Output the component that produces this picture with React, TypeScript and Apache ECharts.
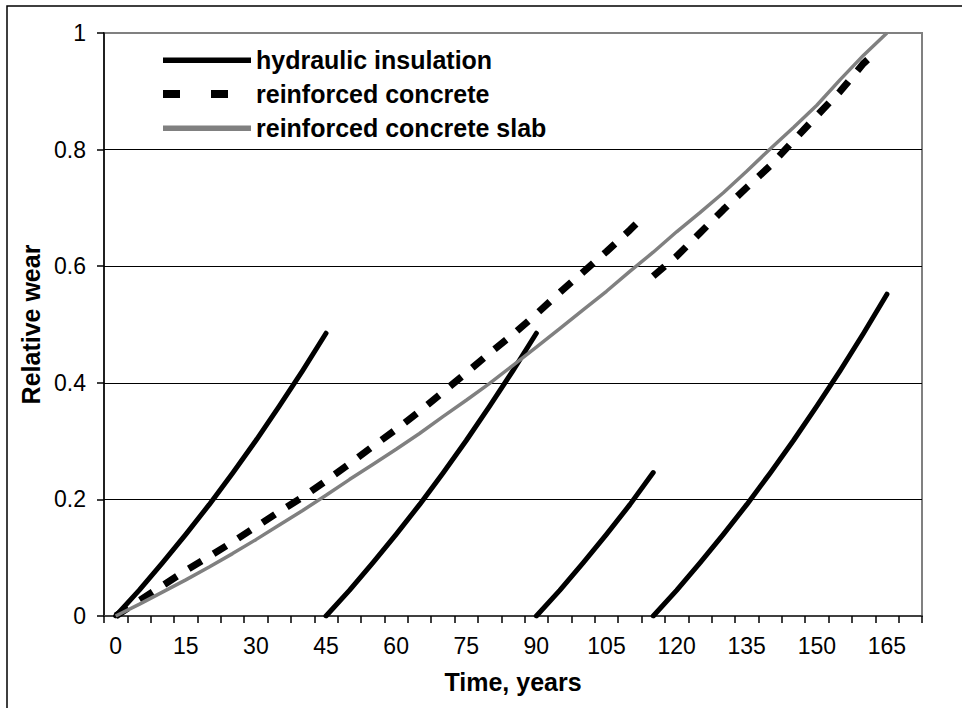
import React, { useEffect, useRef } from 'react';
import * as echarts from 'echarts';

// Category labels of the time axis (years, one bin every 5 years)
const timeCategories = ['0','5','10','15','20','25','30','35','40','45','50','55','60','65','70','75','80','85','90','95','100','105','110','115','120','125','130','135','140','145','150','155','160','165','170'];

// Relative wear axis
const yMin = 0;
const yMax = 1;
const yStep = 0.2;

// hydraulic insulation: four service cycles [year, relative wear]
const hydraulic1 = [[0,0],[5,0.044],[10,0.091],[15,0.14],[20,0.191],[25,0.245],[30,0.301],[35,0.36],[40,0.421],[45,0.485]];
const hydraulic2 = [[45,0],[50,0.044],[55,0.091],[60,0.14],[65,0.191],[70,0.245],[75,0.301],[80,0.36],[85,0.421],[90,0.485]];
const hydraulic3 = [[90,0],[95,0.044],[100,0.091],[105,0.14],[110,0.191],[115,0.246]];
const hydraulic4 = [[115,0],[120,0.044],[125,0.091],[130,0.14],[135,0.191],[140,0.245],[145,0.301],[150,0.36],[155,0.421],[160,0.485],[165,0.552]];

// reinforced concrete: two pieces
const concreteA = [[0,0],[5,0.026],[10,0.052],[15,0.078],[20,0.102],[25,0.127],[30,0.153],[35,0.179],[40,0.204],[45,0.232],[50,0.261],[55,0.291],[60,0.32],[65,0.351],[70,0.384],[75,0.417],[80,0.451],[85,0.483],[90,0.518],[95,0.555],[100,0.59],[105,0.625],[110,0.662],[112,0.678]];
const concreteB = [[115,0.583],[120,0.617],[125,0.657],[130,0.697],[135,0.735],[140,0.772],[145,0.815],[150,0.858],[155,0.9],[160,0.948],[163,0.97]];

// reinforced concrete slab
const slab = [[0,0],[5,0.02],[10,0.041],[15,0.062],[20,0.084],[25,0.107],[30,0.131],[35,0.156],[40,0.181],[45,0.207],[50,0.234],[55,0.26],[60,0.286],[65,0.313],[70,0.342],[75,0.37],[80,0.399],[85,0.43],[90,0.461],[95,0.493],[100,0.525],[105,0.557],[110,0.591],[115,0.624],[120,0.659],[125,0.692],[130,0.726],[135,0.763],[140,0.801],[145,0.838],[150,0.876],[155,0.92],[160,0.962],[165,1.0]];

const seriesNames = ['hydraulic insulation', 'reinforced concrete', 'reinforced concrete slab'];

const FONT = '"Liberation Sans", Arial, Helvetica, sans-serif';

export default function App() {
  const ref = useRef<HTMLDivElement>(null);

  useEffect(() => {
    if (!ref.current) return;
    const chart = echarts.init(ref.current, undefined, { renderer: 'svg' });

    const solid = (data: number[][]) => ({
      type: 'line',
      name: seriesNames[0],
      xAxisIndex: 1,
      yAxisIndex: 0,
      data,
      symbol: 'none',
      showSymbol: false,
      itemStyle: { color: '#000000' },
      lineStyle: { color: '#000000', width: 5, cap: 'round', join: 'round' },
      z: 2,
    });
    const dashed = (data: number[][]) => ({
      type: 'line',
      name: seriesNames[1],
      xAxisIndex: 1,
      yAxisIndex: 0,
      data,
      symbol: 'none',
      showSymbol: false,
      itemStyle: { color: '#000000' },
      lineStyle: { color: '#000000', width: 7, type: [15, 14], cap: 'butt' },
      z: 3,
    });

    const option: any = {
      animation: false,
      textStyle: { fontFamily: FONT },
      graphic: [
        {
          type: 'rect',
          silent: true,
          z: -10,
          shape: { x: 7, y: 6, width: 1000, height: 1000 },
          style: { fill: 'none', stroke: '#000000', lineWidth: 1.5 },
        },
      ],
      grid: {
        left: 104,
        right: 40,
        top: 33,
        bottom: 92,
        show: true,
        borderColor: '#808080',
        borderWidth: 2,
        backgroundColor: 'transparent',
      },
      legend: {
        orient: 'vertical',
        left: 163,
        top: 43,
        padding: 0,
        itemWidth: 88,
        itemHeight: 8,
        itemGap: 0,
        selectedMode: false,
        itemStyle: { borderWidth: 0 },
        textStyle: { fontFamily: FONT, fontSize: 25, fontWeight: 'bold', color: '#000000', lineHeight: 34 },
        data: [
          { name: seriesNames[0], icon: 'path://M0,0L0,0M0,1.5L88,1.5L88,7L0,7ZM88,8L88,8' },
          { name: seriesNames[1], icon: 'path://M0,0L17,0L17,8L0,8ZM48,0L65,0L65,8L48,8ZM88,8L88,8' },
          { name: seriesNames[2], icon: 'path://M0,0L0,0M0,1.5L88,1.5L88,7L0,7ZM88,8L88,8' },
        ],
      },
      xAxis: [
        {
          type: 'category',
          data: timeCategories,
          boundaryGap: true,
          position: 'bottom',
          name: 'Time, years',
          nameLocation: 'middle',
          nameGap: 53,
          nameTextStyle: { fontFamily: FONT, fontSize: 25, fontWeight: 'bold', color: '#000000' },
          axisLine: { show: true, onZero: false, lineStyle: { color: '#404040', width: 2 } },
          axisTick: { show: true, interval: 0, length: 7, lineStyle: { color: '#000000', width: 1.5 } },
          axisLabel: { interval: 2, fontSize: 23, color: '#000000', margin: 18, fontFamily: FONT },
          splitLine: { show: false },
        },
        {
          type: 'value',
          min: -2.5,
          max: 172.5,
          show: false,
          position: 'bottom',
          axisLine: { onZero: false },
          splitLine: { show: false },
        },
      ],
      yAxis: {
        type: 'value',
        min: yMin,
        max: yMax,
        interval: yStep,
        name: 'Relative wear',
        nameLocation: 'middle',
        nameGap: 60,
        nameTextStyle: { fontFamily: FONT, fontSize: 25, fontWeight: 'bold', color: '#000000' },
        axisLine: { show: true, onZero: false, lineStyle: { color: '#000000', width: 1.5 } },
        axisTick: { show: true, length: 7, lineStyle: { color: '#000000', width: 1.5 } },
        axisLabel: { fontSize: 23, color: '#000000', margin: 18, fontFamily: FONT },
        splitLine: {
          show: true,
          lineStyle: { color: ['#000000', '#000000', '#000000', '#000000', '#000000', '#808080'], width: 1 },
        },
      },
      series: [
        solid(hydraulic1),
        solid(hydraulic2),
        solid(hydraulic3),
        solid(hydraulic4),
        dashed(concreteA),
        dashed(concreteB),
        {
          type: 'line',
          name: seriesNames[2],
          xAxisIndex: 1,
          yAxisIndex: 0,
          data: slab,
          symbol: 'none',
          showSymbol: false,
          itemStyle: { color: '#808080' },
          lineStyle: { color: '#808080', width: 3.5 },
          z: 4,
        },
      ],
    };

    chart.setOption(option);
    return () => chart.dispose();
  }, []);

  return (
    <div
      ref={ref}
      style={{ position: 'absolute', left: 0, top: 0, width: 962, height: 708, background: '#ffffff' }}
    />
  );
}
